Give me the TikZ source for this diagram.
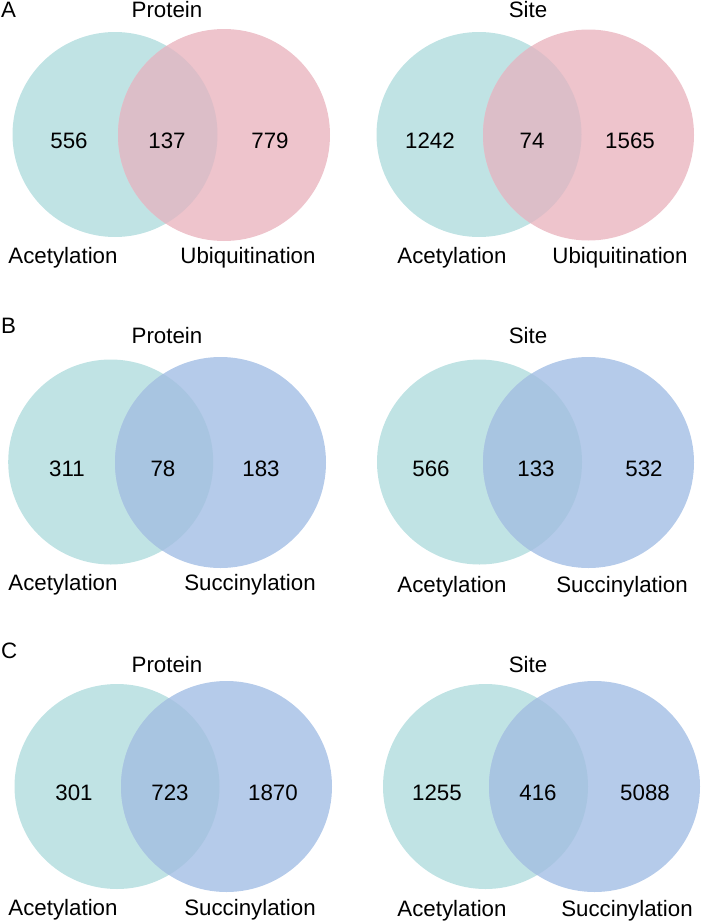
\documentclass[tikz,border=0pt]{standalone}
\usepackage{fontspec}
\setmainfont{Liberation Sans}
\definecolor{tealc}{RGB}{192,227,228}
\definecolor{pinkc}{RGB}{238,196,204}
\definecolor{tpover}{RGB}{220,190,200}
\definecolor{bluec}{RGB}{181,203,234}
\definecolor{tbover}{RGB}{168,197,225}
\newcommand\mypair[7]{%
  % #1,#2 teal centre, #3 teal r, #4,#5 other centre, #6 other r, #7 colour name prefix
  \fill[tealc] (#1,#2) circle[radius=#3];
  \fill[#7c] (#4,#5) circle[radius=#6];
  \begin{scope}
    \clip (#1,#2) circle[radius=#3];
    \fill[#7over] (#4,#5) circle[radius=#6];
  \end{scope}}
\colorlet{pinkover}{tpover}
\colorlet{blueover}{tbover}
\begin{document}
\begin{tikzpicture}[x=1pt,y=-1pt,
  txt/.style={inner sep=0pt,anchor=base,font=\fontsize{22.3}{26}\selectfont},
  panel/.style={txt,anchor=base west}]
\useasboundingbox (0,0) rectangle (701,921);
% ---------- A ----------
\mypair{115}{134.5}{102.5}{224}{135}{106}{pink}
\mypair{479}{134.5}{102.5}{588.5}{135}{105.5}{pink}
\node[panel] (lA) at (1,17) {A};
\node[txt] (tA1) at (167,17) {Protein};
\node[txt] (tA2) at (528,17) {Site};
\node[txt] (nA1) at (69,148) {556};
\node[txt] (nA2) at (167,148) {137};
\node[txt] (nA3) at (270,148) {779};
\node[txt] (nA4) at (430,148) {1242};
\node[txt] (nA5) at (532,148) {74};
\node[txt] (nA6) at (630,148) {1565};
\node[txt] (aA1) at (63,263) {Acetylation};
\node[txt] (uA1) at (248,263) {Ubiquitination};
\node[txt] (aA2) at (452,263) {Acetylation};
\node[txt] (uA2) at (620,263) {Ubiquitination};
% ---------- B ----------
\mypair{110.7}{462}{102.5}{220.5}{462.5}{105.5}{blue}
\mypair{479.5}{462}{102.5}{588.5}{462.5}{105.5}{blue}
\node[panel] (lB) at (1,333) {B};
\node[txt] (tB1) at (167,343) {Protein};
\node[txt] (tB2) at (528,343) {Site};
\node[txt] (nB1) at (67,476) {311};
\node[txt] (nB2) at (163,476) {78};
\node[txt] (nB3) at (261,476) {183};
\node[txt] (nB4) at (431,476) {566};
\node[txt] (nB5) at (536,476) {133};
\node[txt] (nB6) at (644,476) {532};
\node[txt] (aB1) at (63,590) {Acetylation};
\node[txt] (sB1) at (250,590) {Succinylation};
\node[txt] (aB2) at (452,592) {Acetylation};
\node[txt] (sB2) at (622,592) {Succinylation};
% ---------- C ----------
\mypair{117}{786.5}{102.5}{226.5}{786.5}{105.5}{blue}
\mypair{485.5}{786.5}{102.5}{594.5}{786.5}{105.5}{blue}
\node[panel] (lC) at (1,658) {C};
\node[txt] (tC1) at (167,672) {Protein};
\node[txt] (tC2) at (528,672) {Site};
\node[txt] (nC1) at (74,800) {301};
\node[txt] (nC2) at (170,800) {723};
\node[txt] (nC3) at (273,800) {1870};
\node[txt] (nC4) at (437,800) {1255};
\node[txt] (nC5) at (538,800) {416};
\node[txt] (nC6) at (645,800) {5088};
\node[txt] (aC1) at (63,915) {Acetylation};
\node[txt] (sC1) at (250,915) {Succinylation};
\node[txt] (aC2) at (452,916) {Acetylation};
\node[txt] (sC2) at (627,916) {Succinylation};
\end{tikzpicture}
\end{document}
